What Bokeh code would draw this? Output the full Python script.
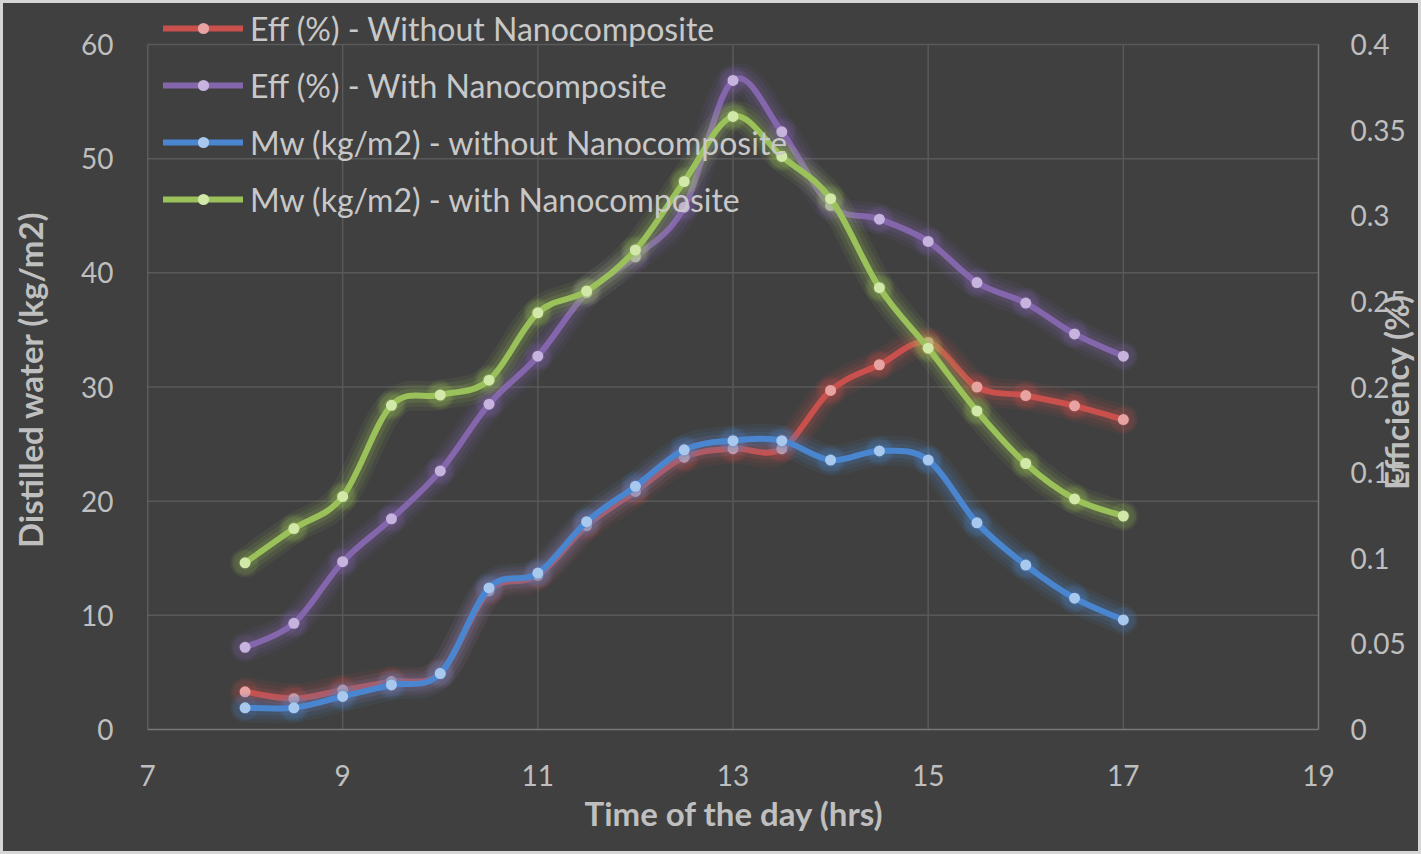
import math
import numpy as np
from bokeh.plotting import figure
from bokeh.models import Range1d, FixedTicker, Legend, LegendItem, Title
from bokeh.core.properties import value
from bokeh.embed import file_html
from bokeh.resources import INLINE

# data
hours = [8, 8.5, 9, 9.5, 10, 10.5, 11, 11.5, 12, 12.5, 13, 13.5, 14, 14.5, 15, 15.5, 16, 16.5, 17]
eff_without = [0.022, 0.018, 0.023, 0.028, 0.033, 0.081, 0.090, 0.119, 0.139, 0.159,
               0.164, 0.164, 0.198, 0.213, 0.226, 0.200, 0.195, 0.189, 0.181]
eff_with = [0.048, 0.062, 0.098, 0.123, 0.151, 0.190, 0.218, 0.255, 0.276, 0.305,
            0.379, 0.349, 0.306, 0.298, 0.285, 0.261, 0.249, 0.231, 0.218]
mw_without = [1.9, 1.9, 2.9, 3.9, 4.9, 12.4, 13.7, 18.2, 21.3, 24.5,
              25.3, 25.3, 23.6, 24.4, 23.6, 18.1, 14.4, 11.5, 9.6]
mw_with = [14.6, 17.6, 20.4, 28.4, 29.3, 30.6, 36.5, 38.4, 42.0, 48.0,
           53.7, 50.2, 46.5, 38.7, 33.4, 27.9, 23.3, 20.2, 18.7]

x_ticks = [7, 9, 11, 13, 15, 17, 19]
mw_ticks = [0, 10, 20, 30, 40, 50, 60]
eff_ticks = [0, 0.05, 0.1, 0.15, 0.2, 0.25, 0.3, 0.35, 0.4]
eff_labels = ["0", "0.05", "0.1", "0.15", "0.2", "0.25", "0.3", "0.35", "0.4"]

FONT = "Lato"
BG = "#404040"
TXT = "#bfbfbf"
AXIS = "#777777"
GRID = "#595959"

# the plot frame is larger than the 7..19 / 0..60 box (up to the top, right edge and a
# little below it) so that the legend's first row and the right-hand scale, drawn as
# text, are not clipped; the ranges are stretched to keep the box where the original has it
W, H = 1421, 854
LEFT, RIGHT, TOP, BOTTOM = 147, 1318, 44, 729
F_TOP, F_BOTTOM = 8, 750
x_end = x_ticks[0] + (x_ticks[-1] - x_ticks[0]) * (W - LEFT) / (RIGHT - LEFT)
per_px = 1.0 / (BOTTOM - TOP)
y_lo, y_hi = -(F_BOTTOM - BOTTOM) * per_px, (BOTTOM - F_TOP) * per_px


def smooth(x, y):
    # bezier control points, excel-like smoothing
    x = np.asarray(x, float)
    y = np.asarray(y, float)
    n = len(x)
    xp = np.concatenate([[x[0]], x, [x[-1]]])
    yp = np.concatenate([[y[0]], y, [y[-1]]])
    return dict(
        x0=x[:-1], y0=y[:-1], x1=x[1:], y1=y[1:],
        cx0=x[:-1] + (xp[2:n + 1] - xp[0:n - 1]) / 6,
        cy0=y[:-1] + (yp[2:n + 1] - yp[0:n - 1]) / 6,
        cx1=x[1:] - (xp[3:n + 2] - xp[1:n]) / 6,
        cy1=y[1:] - (yp[3:n + 2] - yp[1:n]) / 6,
    )


p = figure(width=W, height=H, x_range=Range1d(x_ticks[0], x_end),
           y_range=Range1d(y_lo * mw_ticks[-1], y_hi * mw_ticks[-1]),
           output_backend="svg", toolbar_location=None,
           min_border_left=LEFT, min_border_right=0, min_border_top=F_TOP,
           min_border_bottom=H - F_BOTTOM)
# dark backdrop from css, so the canvas has no frame/border seam
p.background_fill_color = None
p.border_fill_color = None
p.styles = {"background-color": BG, "box-shadow": "inset 0 0 0 3px #d6d6d6"}
p.outline_line_color = None
p.extra_y_ranges = {"eff": Range1d(y_lo * eff_ticks[-1], y_hi * eff_ticks[-1])}
p.grid.visible = False

p.xaxis.ticker = FixedTicker(ticks=x_ticks)
p.yaxis.ticker = FixedTicker(ticks=mw_ticks)
p.yaxis.axis_label = "Distilled water (kg/m2)"

for ax in [p.xaxis[0], p.yaxis[0]]:
    ax.axis_line_color = None
    ax.major_tick_out = 0
    ax.major_tick_in = 0
    ax.minor_tick_line_color = None
    ax.major_label_text_color = TXT
    ax.major_label_text_font = FONT
    ax.major_label_text_font_size = "28px"
    ax.axis_label_text_color = TXT
    ax.axis_label_text_font = FONT
    ax.axis_label_text_font_style = "bold"
    ax.axis_label_text_font_size = "33px"

p.xaxis.major_label_standoff = 35 - (F_BOTTOM - BOTTOM)
p.yaxis[0].major_label_standoff = 34
p.yaxis[0].axis_label_standoff = 28

# x title as a title below, placed at the centre of the 7..19 box
xtitle = Title(text="Time of the day (hrs)", align="left", offset=437,
               text_color=TXT, text_font=FONT, text_font_style="bold",
               text_font_size="33px", standoff=5)
p.add_layout(xtitle, "below")

# grid and box edges, limited to the 7..19 / 0..60 box
nx, ny = len(x_ticks), len(mw_ticks)
p.segment(x0=x_ticks[1:-1], y0=[mw_ticks[0]] * (nx - 2), x1=x_ticks[1:-1],
          y1=[mw_ticks[-1]] * (nx - 2), line_color=GRID, line_width=1.5)
p.segment(x0=[x_ticks[0]] * (ny - 1), y0=mw_ticks[1:], x1=[x_ticks[-1]] * (ny - 1),
          y1=mw_ticks[1:], line_color=GRID, line_width=1.5)
p.segment(x0=[x_ticks[0], x_ticks[0], x_ticks[-1]],
          y0=[mw_ticks[0], mw_ticks[0], mw_ticks[0]],
          x1=[x_ticks[-1], x_ticks[0], x_ticks[-1]],
          y1=[mw_ticks[0], mw_ticks[-1], mw_ticks[-1]],
          line_color=AXIS, line_width=1.5)

# right-hand efficiency scale
p.text(x=[x_ticks[-1]] * len(eff_ticks), y=eff_ticks, text=eff_labels, y_range_name="eff",
       x_offset=32, text_align="left", text_baseline="middle", text_color=TXT,
       text_font=value(FONT), text_font_size="28px")

series = [
    ("Eff (%) - Without Nanocomposite", eff_without, "eff", "#c9504d", "#e6a3a1"),
    ("Eff (%) - With Nanocomposite", eff_with, "eff", "#8466ad", "#c6b4de"),
    ("Mw (kg/m2) - without Nanocomposite", mw_without, "default", "#4a86cf", "#a8c8ee"),
    ("Mw (kg/m2) - with Nanocomposite", mw_with, "default", "#9bc25a", "#d2e8a8"),
]

items = []
for label, vals, rng, col, mcol in series:
    seg = smooth(hours, vals)
    # soft glow under the line
    for w, a in [(30, 0.08), (22, 0.10), (14, 0.15)]:
        p.bezier(**seg, line_color=col, line_width=w, line_alpha=a, line_cap="round",
                 y_range_name=rng)
    p.scatter(hours, vals, size=26, fill_color=col, fill_alpha=0.12, line_color=None,
              y_range_name=rng)
    main = p.bezier(**seg, line_color=col, line_width=6, line_cap="round", y_range_name=rng)
    dots = p.scatter(hours, vals, size=11, fill_color=mcol, line_color=None, y_range_name=rng)
    items.append(LegendItem(label=label, renderers=[main, dots]))

# right axis title, reading upwards, laid over the tick labels as in the original
p.text(x=[x_ticks[-1]], y=[eff_ticks[-1] / 2], text=["Efficiency (%)"], y_range_name="eff",
       x_offset=77, y_offset=5, angle=math.pi / 2, text_align="center", text_baseline="middle",
       text_color=TXT, text_font=value(FONT), text_font_style="bold", text_font_size="33px")

legend = Legend(items=items, location=(16, 510 + F_BOTTOM - BOTTOM), glyph_width=80,
                glyph_height=28, label_height=40, spacing=17, padding=0, margin=0,
                label_standoff=7, background_fill_alpha=0, border_line_alpha=0,
                label_text_color="#c8c8c8", label_text_font=FONT, label_text_font_size="32px")
p.add_layout(legend)

open("out.html", "w").write(file_html(p, INLINE))
